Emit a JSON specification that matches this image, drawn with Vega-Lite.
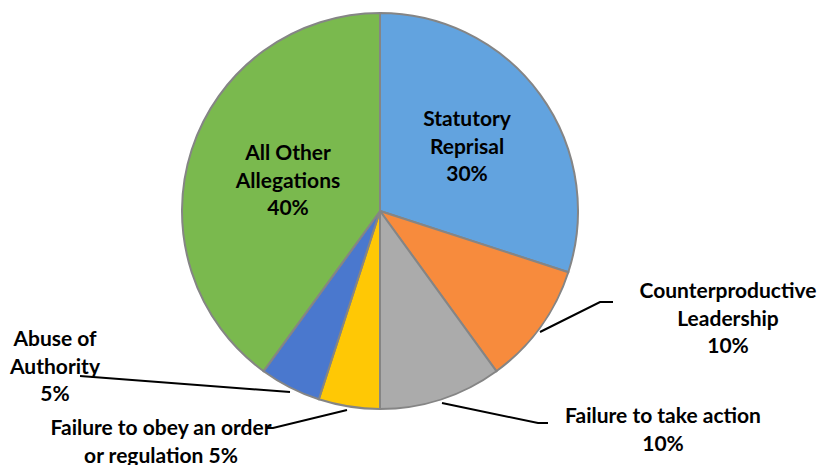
{
  "$schema": "https://vega.github.io/schema/vega-lite/v6.json",
  "width": 818,
  "height": 465,
  "autosize": {"type": "none"},
  "padding": 0,
  "background": "white",
  "config": {"view": {"stroke": null}},
  "datasets": {
    "slices": [
      {"category": "Statutory Reprisal", "share": 30, "idx": 1},
      {"category": "Counterproductive Leadership", "share": 10, "idx": 2},
      {"category": "Failure to take action", "share": 10, "idx": 3},
      {"category": "Failure to obey an order or regulation", "share": 5, "idx": 4},
      {"category": "Abuse of Authority", "share": 5, "idx": 5},
      {"category": "All Other Allegations", "share": 40, "idx": 6}
    ],
    "labels": [
      {"category": "Statutory Reprisal", "text": "Statutory\nReprisal\n30%", "lx": 43.5, "ly": 45.5},
      {"category": "All Other Allegations", "text": "All Other\nAllegations\n40%", "lx": -46, "ly": 28.5},
      {"category": "Counterproductive Leadership", "text": "Counterproductive\nLeadership\n10%", "lx": 174, "ly": -40.5},
      {"category": "Failure to take action", "text": "Failure to take action\n10%", "lx": 141.5, "ly": -103},
      {"category": "Failure to obey an order or regulation", "text": "Failure to obey an order\nor regulation 5%", "lx": -109.5, "ly": -109},
      {"category": "Abuse of Authority", "text": "Abuse of\nAuthority\n5%", "lx": -162.5, "ly": -64.5}
    ],
    "leaders": [
      {"category": "Counterproductive Leadership", "seq": 1, "lx": 80, "ly": -60.5},
      {"category": "Counterproductive Leadership", "seq": 2, "lx": 110, "ly": -45.5},
      {"category": "Counterproductive Leadership", "seq": 3, "lx": 116.5, "ly": -45.5},
      {"category": "Failure to take action", "seq": 1, "lx": 31, "ly": -96},
      {"category": "Failure to take action", "seq": 2, "lx": 79, "ly": -106},
      {"category": "Failure to take action", "seq": 3, "lx": 84, "ly": -106},
      {"category": "Failure to obey an order or regulation", "seq": 1, "lx": -16.5, "ly": -99.5},
      {"category": "Failure to obey an order or regulation", "seq": 2, "lx": -53.5, "ly": -108.5},
      {"category": "Failure to obey an order or regulation", "seq": 3, "lx": -56.5, "ly": -108.5},
      {"category": "Abuse of Authority", "seq": 1, "lx": -45, "ly": -90.5},
      {"category": "Abuse of Authority", "seq": 2, "lx": -150, "ly": -82.5}
    ]
  },
  "layer": [
    {
      "data": {"name": "slices"},
      "mark": {"type": "arc", "radius": 198, "stroke": "#858585", "strokeWidth": 2},
      "encoding": {
        "theta": {"field": "share", "type": "quantitative", "stack": true},
        "order": {"field": "idx", "type": "quantitative"},
        "color": {
          "field": "category",
          "type": "nominal",
          "legend": null,
          "scale": {
            "domain": ["Statutory Reprisal", "Counterproductive Leadership", "Failure to take action", "Failure to obey an order or regulation", "Abuse of Authority", "All Other Allegations"],
            "range": ["#62A3DF", "#F78B3D", "#ABABAB", "#FFC805", "#4A78CE", "#7AB94E"]
          }
        },
        "x": {"datum": 0, "type": "quantitative", "scale": {"domain": [-190, 219], "nice": false, "zero": false}, "axis": null},
        "y": {"datum": 0, "type": "quantitative", "scale": {"domain": [-127, 105.5], "nice": false, "zero": false}, "axis": null}
      }
    },
    {
      "data": {"name": "leaders"},
      "mark": {"type": "line", "color": "black", "strokeWidth": 2},
      "encoding": {
        "x": {"field": "lx", "type": "quantitative"},
        "y": {"field": "ly", "type": "quantitative"},
        "detail": {"field": "category"},
        "order": {"field": "seq", "type": "quantitative"}
      }
    },
    {
      "data": {"name": "labels"},
      "mark": {"type": "text", "lineBreak": "\n", "align": "center", "baseline": "middle", "font": "Lato", "fontWeight": "bold", "fontSize": 21, "lineHeight": 27.5, "color": "black"},
      "encoding": {
        "x": {"field": "lx", "type": "quantitative"},
        "y": {"field": "ly", "type": "quantitative"},
        "text": {"field": "text"}
      }
    }
  ]
}
